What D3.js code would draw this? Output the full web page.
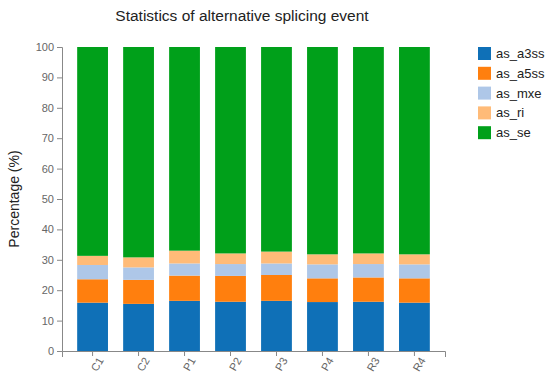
<!DOCTYPE html>
<html>
<head>
<meta charset="utf-8">
<script src="https://cdn.jsdelivr.net/npm/d3@7"></script>
<style>
  body { margin: 0; background: #fff; font-family: "Liberation Sans", Arial, sans-serif; }
  .axis path, .axis line { stroke: #888; }
  .axis text { fill: #666; font-size: 11px; }
</style>
</head>
<body>
<div id="chart"></div>
<script>
// Data
const samples = ["C1", "C2", "P1", "P2", "P3", "P4", "R3", "R4"];
const eventTypes = ["as_a3ss", "as_a5ss", "as_mxe", "as_ri", "as_se"];
const as_a3ss = [15.9, 15.5, 16.5, 16.2, 16.5, 16.1, 16.2, 15.9];
const as_a5ss = [7.7, 7.9, 8.3, 8.5, 8.5, 7.8, 8.0, 8.0];
const as_mxe  = [4.7, 4.1, 4.0, 3.9, 3.8, 4.6, 4.4, 4.6];
const as_ri   = [3.0, 3.3, 4.2, 3.5, 3.9, 3.3, 3.5, 3.3];
const as_se   = [68.7, 69.2, 67.0, 67.9, 67.3, 68.2, 67.9, 68.2];
const yTicks = [0, 10, 20, 30, 40, 50, 60, 70, 80, 90, 100];
const colors = ["#0f70b7", "#ff7f0e", "#aec7e8", "#ffbb78", "#00a01a"];

const seriesValues = [as_a3ss, as_a5ss, as_mxe, as_ri, as_se];
const table = samples.map((s, i) => {
    const row = {sample: s};
    eventTypes.forEach((k, j) => row[k] = seriesValues[j][i]);
    return row;
});

// Set dimensions and margins
const W = 550, H = 383;
const margin = {top: 47, right: 105, bottom: 32, left: 62},
    width = W - margin.left - margin.right,
    height = H - margin.top - margin.bottom;

const svg = d3.select("#chart")
  .append("svg")
    .attr("width", W)
    .attr("height", H);

// Title
svg.append("text")
    .attr("x", 242)
    .attr("y", 21)
    .attr("text-anchor", "middle")
    .style("font-size", "15.5px")
    .style("fill", "#222")
    .text("Statistics of alternative splicing event");

const g = svg.append("g")
    .attr("transform", `translate(${margin.left},${margin.top})`);

// Scales
const x = d3.scaleBand()
    .domain(samples)
    .range([0, width])
    .padding(0.33);
const y = d3.scaleLinear()
    .domain([0, 100])
    .range([height, 0]);
const color = d3.scaleOrdinal().domain(eventTypes).range(colors);

const stacked = d3.stack().keys(eventTypes)(table);

// Bars
g.selectAll(".layer")
  .data(stacked)
  .enter().append("g")
    .attr("class", "layer")
    .attr("fill", d => color(d.key))
  .selectAll("rect")
  .data(d => d)
  .enter().append("rect")
    .attr("x", d => x(d.data.sample))
    .attr("width", x.bandwidth())
    .attr("y", d => y(d[1]))
    .attr("height", d => y(d[0]) - y(d[1]));

// Axes
g.append("g")
    .attr("class", "axis")
    .call(d3.axisLeft(y).tickValues(yTicks).tickSize(5).tickPadding(3));

g.append("g")
    .attr("class", "axis")
    .attr("transform", `translate(0,${height})`)
    .call(d3.axisBottom(x).tickSize(5).tickSizeOuter(6))
  .selectAll("text")
    .style("text-anchor", "end")
    .attr("dx", "-0.2em")
    .attr("dy", "0.6em")
    .attr("transform", "rotate(-60)");

// Y label
svg.append("text")
    .attr("transform", `translate(19,${margin.top + height / 2}) rotate(-90)`)
    .attr("text-anchor", "middle")
    .style("font-size", "14px")
    .style("fill", "#222")
    .text("Percentage (%)");

// Legend
const legend = svg.append("g")
    .attr("transform", "translate(478,47)");
eventTypes.forEach((k, i) => {
    const row = legend.append("g").attr("transform", `translate(0,${i * 19.8})`);
    row.append("rect")
        .attr("width", 13)
        .attr("height", 13)
        .attr("fill", color(k));
    row.append("text")
        .attr("x", 18)
        .attr("y", 11)
        .style("font-size", "13px")
        .style("fill", "#222")
        .text(k);
});
</script>
</body>
</html>
